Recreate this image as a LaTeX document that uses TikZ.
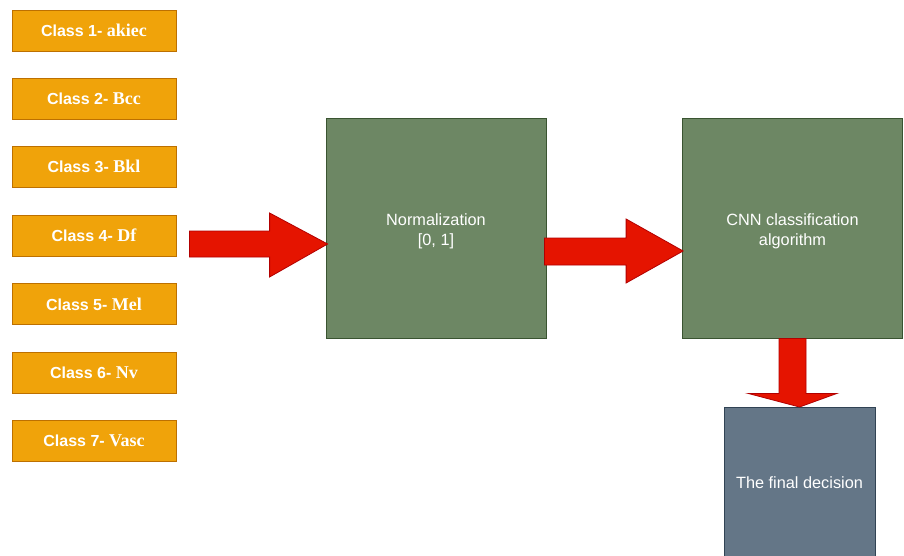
\documentclass[tikz,border=0pt]{standalone}
\usepackage{fontspec}
\setmainfont{Liberation Sans}
\newfontfamily\serifpart{Liberation Serif}
\newcommand{\clsname}[1]{{\serifpart\fontsize{18}{19}\selectfont #1}}
% two centred lines, lowered a little inside a stage box
\newcommand{\twolines}[2]{\raisebox{-3.5pt}[\height][\depth]{\begin{tabular}{@{}c@{}}#1\\\relax #2\end{tabular}}}
\usetikzlibrary{calc}
\definecolor{clsfill}{HTML}{F0A30A}
\definecolor{clsline}{HTML}{BD7000}
\definecolor{stepfill}{HTML}{6D8764}
\definecolor{stepline}{HTML}{3A5431}
\definecolor{endfill}{HTML}{647687}
\definecolor{endline}{HTML}{314354}
\definecolor{arrfill}{HTML}{E51400}
\definecolor{arrline}{HTML}{B20000}
\tikzset{
  classbox/.style={draw=clsline, fill=clsfill, line width=0.8pt,
    minimum width=164pt, minimum height=41pt, inner sep=0pt,
    text=white, font=\fontsize{16}{19}\selectfont\bfseries},
  stagebox/.style={draw=stepline, fill=stepfill, line width=0.8pt,
    minimum width=220pt, minimum height=220pt, inner sep=0pt,
    text=white, font=\fontsize{16.3}{20}\selectfont},
  finalbox/.style={draw=endline, fill=endfill, line width=0.8pt,
    minimum width=151pt, minimum height=162pt, inner sep=0pt,
    text=white, align=center, font=\fontsize{16.3}{20}\selectfont},
  blockarrow/.style={draw=arrline, fill=arrfill, line width=0.8pt, line join=miter}
}
\begin{document}
\begin{tikzpicture}[x=1pt, y=-1pt]
  \useasboundingbox (0,0) rectangle (904,556);
  \clip (0,0) rectangle (904,556);
  \fill[white] (0,0) rectangle (904,556);

  % input classes
  \node[classbox] (c1) at (94,30.5)  {Class 1- \clsname{akiec}};
  \node[classbox] (c2) at (94,98.5)  {Class 2- \clsname{Bcc}};
  \node[classbox] (c3) at (94,166.5) {Class 3- \clsname{Bkl}};
  \node[classbox] (c4) at (94,235.5) {Class 4- \clsname{Df}};
  \node[classbox] (c5) at (94,304)   {Class 5- \clsname{Mel}};
  \node[classbox] (c6) at (94,372.5) {Class 6- \clsname{Nv}};
  \node[classbox] (c7) at (94,441)   {Class 7- \clsname{Vasc}};

  % processing stages
  \node[stagebox] (norm) at (436,228) {\twolines{Normalization}{[0, 1]}};
  \node[stagebox] (cnn)  at (792.5,228) {\twolines{CNN classification}{algorithm}};
  \node[finalbox, anchor=north] (final) at (799.5,407)
    {\raisebox{5.5pt}[\height][\depth]{The final decision}};

  % block arrows
  \draw[blockarrow]
    ($(c4.east)+(13,-4.5)$) -- ($(norm.west)+(-56,3)$) -- ($(norm.west)+(-56,-15)$)
    -- ($(norm.west)+(2,16)$)
    -- ($(norm.west)+(-56,49)$) -- ($(norm.west)+(-56,29)$) -- ($(c4.east)+(13,21.5)$) -- cycle;
  \draw[blockarrow]
    ($(norm.east)+(-2,10)$) -- ($(cnn.west)+(-56,10)$) -- ($(cnn.west)+(-56,-9)$)
    -- ($(cnn.west)+(1,23)$)
    -- ($(cnn.west)+(-56,55)$) -- ($(cnn.west)+(-56,37)$) -- ($(norm.east)+(-2,37)$) -- cycle;
  \draw[blockarrow]
    ($(cnn.south)+(-13.5,0)$) -- ($(cnn.south)+(-13.5,55)$) -- ($(cnn.south)+(-44.5,55)$)
    -- (final.north)
    -- ($(cnn.south)+(44.5,55)$) -- ($(cnn.south)+(13.5,55)$) -- ($(cnn.south)+(13.5,0)$) -- cycle;
\end{tikzpicture}
\end{document}
